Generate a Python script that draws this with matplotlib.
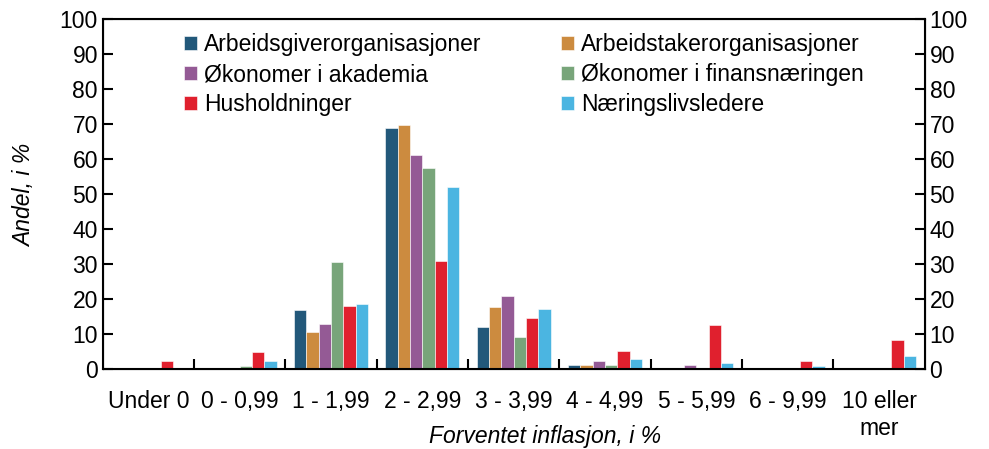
import numpy as np
import matplotlib
matplotlib.use("Agg")
import matplotlib.pyplot as plt
from matplotlib.ticker import MultipleLocator, FixedLocator

plt.rcParams['font.family'] = ['Liberation Sans', 'DejaVu Sans']

categories = ["Under 0", "0 - 0,99", "1 - 1,99", "2 - 2,99", "3 - 3,99",
              "4 - 4,99", "5 - 5,99", "6 - 9,99", "10 eller\nmer"]

series = {
    "Arbeidsgiverorganisasjoner":   [0.0, 0.0, 16.8, 68.9, 11.9, 1.3, 0.3, 0.0, 0.0],
    "Arbeidstakerorganisasjoner":   [0.0, 0.0, 10.5, 69.7, 17.6, 1.3, 0.2, 0.0, 0.0],
    "Økonomer i akademia":          [0.0, 0.4, 12.8, 61.1, 20.9, 2.2, 1.1, 0.4, 0.0],
    "Økonomer i finansnæringen":    [0.0, 0.9, 30.6, 57.4, 9.1, 1.2, 0.2, 0.0, 0.0],
    "Husholdninger":                [2.3, 5.0, 18.0, 30.9, 14.5, 5.1, 12.6, 2.3, 8.3],
    "Næringslivsledere":            [0.0, 2.3, 18.6, 52.0, 17.1, 3.0, 1.6, 0.9, 3.7],
}
colors = ["#22587A", "#CC8B3F", "#945A95", "#78A57A", "#E0202E", "#4BB5E1"]

fs = 16.5
fig = plt.figure(figsize=(9.89, 4.49), dpi=100)
ax = fig.add_axes([0.104, 0.178, 0.831, 0.780])

x = np.arange(len(categories))
width = 0.135
n = len(series)
bars = []
for i, (label, vals) in enumerate(series.items()):
    b = ax.bar(x + (i - (n - 1) / 2) * width, vals, width=width, color=colors[i],
               edgecolor="white", linewidth=0.4, label=label)
    bars.append(b)

ax.set_xlim(-0.5, len(categories) - 0.5)
ax.set_ylim(0, 100)
ax.yaxis.set_major_locator(MultipleLocator(10))
ax.set_xticks(x)
ax.set_xticklabels(categories)
ax.xaxis.set_minor_locator(FixedLocator(np.arange(0.5, len(categories) - 1, 1)))
ax.tick_params(axis="x", which="major", length=0, labelsize=fs, pad=15)
ax.tick_params(axis="x", which="minor", direction="in", length=7, width=1.5)
ax.tick_params(axis="y", direction="in", length=7, width=1.5, labelsize=fs)

for s in ax.spines.values():
    s.set_linewidth(1.5)

ax2 = ax.twinx()
ax2.set_ylim(0, 100)
ax2.yaxis.set_major_locator(MultipleLocator(10))
ax2.tick_params(axis="y", direction="in", length=7, width=1.5, labelsize=fs)

ax.set_ylabel("Andel, i %", fontsize=fs, style="italic")
ax.yaxis.set_label_coords(-0.081, 0.497)
ax.set_xlabel("Forventet inflasjon, i %", fontsize=fs, style="italic")
ax.xaxis.set_label_coords(0.538, -0.16)

# row-wise legend order: matplotlib fills columns first
order = [0, 2, 4, 1, 3, 5]
labels = list(series.keys())
ax.legend([bars[i] for i in order], [labels[i] for i in order],
          ncol=2, loc="upper left", bbox_to_anchor=(0.087, 0.985), frameon=False,
          fontsize=fs, handlelength=0.6, handleheight=0.6, handletextpad=0.3,
          columnspacing=3.45, labelspacing=0.3, borderaxespad=0)

fig.savefig("out.png", dpi=100)
